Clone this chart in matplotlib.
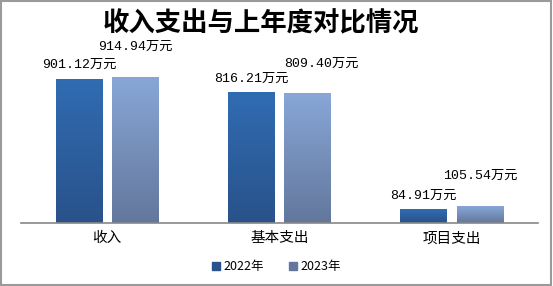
import numpy as np
import matplotlib.pyplot as plt
from matplotlib.colors import LinearSegmentedColormap

plt.rcParams['font.family'] = ['Noto Sans CJK SC', 'DejaVu Sans']

categories = ['收入', '基本支出', '项目支出']
years = ['2022年', '2023年']
values_2022 = [901.12, 816.21, 84.91]
values_2023 = [914.94, 809.40, 105.54]
labels_2022 = ['901.12万元', '816.21万元', '84.91万元']
labels_2023 = ['914.94万元', '809.40万元', '105.54万元']

# gradient colors (top, bottom) for each series
grad_2022 = ('#306cb2', '#29528a')
grad_2023 = ('#88a7d7', '#63779c')


def gradient_bars(ax, bars, top, bottom):
    cmap = LinearSegmentedColormap.from_list('g', [bottom, top])
    grad = np.linspace(0, 1, 256).reshape(-1, 1)
    for b in bars:
        x, y = b.get_x(), b.get_y()
        w, h = b.get_width(), b.get_height()
        im = ax.imshow(grad, cmap=cmap, origin='lower', aspect='auto',
                       extent=(x, x + w, y, y + h), zorder=2)
        im.set_clip_path(b)
        b.set_facecolor('none')


def main():
    fig = plt.figure(figsize=(5.53, 2.86), dpi=100)
    fig.patch.set_facecolor('white')
    # gray frame round the picture
    fig.add_artist(plt.Rectangle((0.002, 0.004), 0.994, 0.993, transform=fig.transFigure,
                                 fill=False, edgecolor='#9a9a9a', linewidth=1.5))

    ax = fig.add_axes([21 / 553, 63 / 286, 517 / 553, 160 / 286])
    x = np.arange(len(categories))
    w = 0.27
    off = 0.163
    b1 = ax.bar(x - off, values_2022, w, color=grad_2022[0], label=years[0], zorder=2)
    b2 = ax.bar(x + off, values_2023, w, color=grad_2023[0], label=years[1], zorder=2)
    gradient_bars(ax, b1, *grad_2022)
    gradient_bars(ax, b2, *grad_2023)

    ax.set_xlim(-0.5, 2.5)
    ax.set_ylim(0, 1000)
    for s in ['top', 'left', 'right']:
        ax.spines[s].set_visible(False)
    ax.spines['bottom'].set_color('#888888')
    ax.spines['bottom'].set_linewidth(1.2)
    ax.set_yticks([])
    ax.set_xticks(x)
    ax.set_xticklabels(categories, fontsize=10.5)
    ax.tick_params(axis='x', length=0, pad=6)

    # value labels: 2022 just above the bar, 2023 one line higher
    mono = ['Liberation Mono', 'Noto Sans CJK SC']
    for xi, v, t in zip(x - off, values_2022, labels_2022):
        ax.text(xi, v + 50, t, ha='center', va='bottom', fontsize=9.5, family=mono)
    shift = [0.0, 0.08, 0.0]
    for xi, v, t, s in zip(x + off, values_2023, labels_2023, shift):
        ax.text(xi + s, v + 150, t, ha='center', va='bottom', fontsize=9.5, family=mono)

    fig.text(0.472, 0.918, '收入支出与上年度对比情况', ha='center', va='center',
             fontsize=19, fontweight='bold')

    h1 = plt.Rectangle((0, 0), 1, 1, color=grad_2022[1])
    h2 = plt.Rectangle((0, 0), 1, 1, color=grad_2023[1])
    fig.legend([h1, h2], years, loc='center', bbox_to_anchor=(0.5, 0.067), ncol=2,
               frameon=False, fontsize=9, handlelength=0.6, handleheight=0.6,
               handletextpad=0.3, columnspacing=2.0)

    plt.savefig('out.png', dpi=100)


if __name__ == '__main__':
    main()
